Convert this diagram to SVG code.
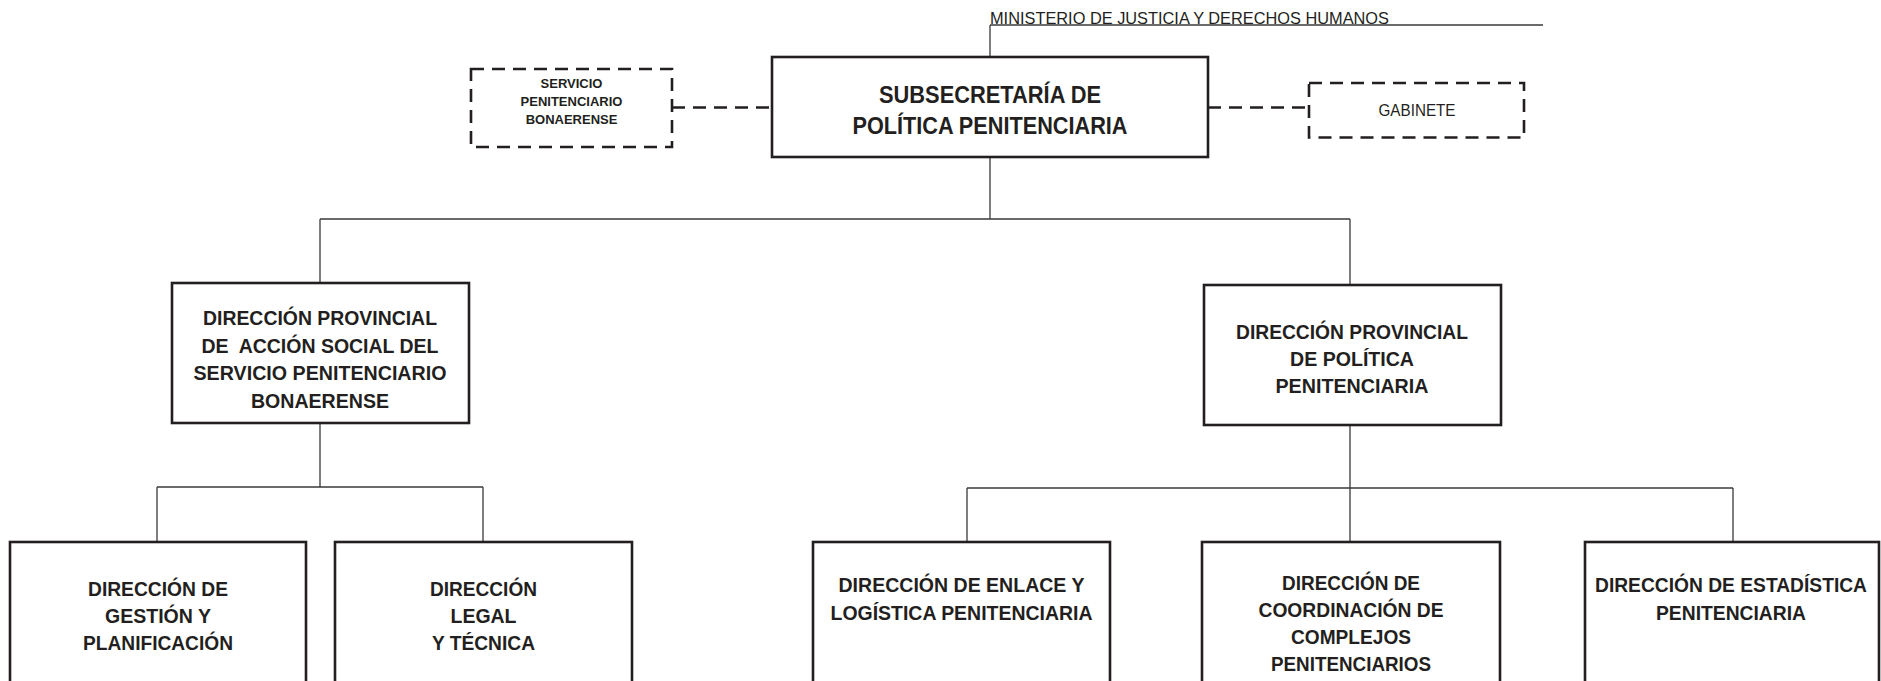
<svg xmlns="http://www.w3.org/2000/svg" width="1881" height="681" viewBox="0 0 1881 681">
<style>
.bg{fill:#ffffff}
.box{fill:#ffffff;stroke:#231f20;stroke-width:2.6}
.dbox{fill:#ffffff;stroke:#231f20;stroke-width:2.6;stroke-dasharray:13 8}
.ln{fill:none;stroke:#3a3a3a;stroke-width:1.3}
.dl{fill:none;stroke:#231f20;stroke-width:2.6;stroke-dasharray:13 8}
text{font-family:"Liberation Sans",Arial,sans-serif;fill:#231f20;text-anchor:middle;white-space:pre}
.b{font-weight:bold}
.t23{font-size:23px}
.t21{font-size:21px}
.t20{font-size:20px}
.t13{font-size:13px}
</style>
<rect class="bg" x="0" y="0" width="1881" height="681"/>
<g id="connectors">
  <path class="ln" d="M990,25 H1543 M990,25 V57"/>
  <path class="ln" d="M990,157 V219 M320,219 H1350 M320,219 V283 M1350,219 V285"/>
  <path class="ln" d="M320,423 V487 M157,487 H483 M157,487 V542 M483,487 V542"/>
  <path class="ln" d="M1350,425 V488 M967,488 H1733 M967,488 V542 M1350,488 V542 M1733,488 V542"/>
  <path class="dl" d="M672,107.5 H772"/>
  <path class="dl" d="M1208,107.5 H1309"/>
</g>
<g id="ministerio">
  <text x="990" y="24" style="text-anchor:start;font-size:17px" textLength="399" lengthAdjust="spacingAndGlyphs">MINISTERIO DE JUSTICIA Y DERECHOS HUMANOS</text>
</g>
<g id="subsecretaria">
  <rect class="box" x="772" y="57" width="436" height="100"/>
  <text class="b t23" x="990" y="103" textLength="222" lengthAdjust="spacingAndGlyphs">SUBSECRETARÍA DE</text>
  <text class="b t23" x="990" y="134" textLength="275" lengthAdjust="spacingAndGlyphs">POLÍTICA PENITENCIARIA</text>
</g>
<g id="servicio">
  <rect class="dbox" x="471" y="69" width="201" height="78"/>
  <text class="b t13" x="571.5" y="88">SERVICIO</text>
  <text class="b t13" x="571.5" y="106">PENITENCIARIO</text>
  <text class="b t13" x="571.5" y="124">BONAERENSE</text>
</g>
<g id="gabinete">
  <rect class="dbox" x="1309" y="83" width="215" height="54.5"/>
  <text x="1417" y="116" style="font-size:16px" textLength="77" lengthAdjust="spacingAndGlyphs">GABINETE</text>
</g>
<g id="dp-accion-social">
  <rect class="box" x="172" y="283" width="297" height="140"/>
  <text class="b t21" x="320" y="325" textLength="234" lengthAdjust="spacingAndGlyphs">DIRECCIÓN PROVINCIAL</text>
  <text class="b t21" x="320" y="352.5" textLength="237" lengthAdjust="spacingAndGlyphs">DE  ACCIÓN SOCIAL DEL</text>
  <text class="b t21" x="320" y="380" textLength="253" lengthAdjust="spacingAndGlyphs">SERVICIO PENITENCIARIO</text>
  <text class="b t21" x="320" y="407.5" textLength="138" lengthAdjust="spacingAndGlyphs">BONAERENSE</text>
</g>
<g id="dp-politica">
  <rect class="box" x="1204" y="285" width="297" height="140"/>
  <text class="b t21" x="1352" y="339" textLength="232" lengthAdjust="spacingAndGlyphs">DIRECCIÓN PROVINCIAL</text>
  <text class="b t21" x="1352" y="366" textLength="124" lengthAdjust="spacingAndGlyphs">DE POLÍTICA</text>
  <text class="b t21" x="1352" y="393" textLength="153" lengthAdjust="spacingAndGlyphs">PENITENCIARIA</text>
</g>
<g id="d-gestion">
  <rect class="box" x="10" y="542" width="296" height="160"/>
  <text class="b t21" x="158" y="596" textLength="140" lengthAdjust="spacingAndGlyphs">DIRECCIÓN DE</text>
  <text class="b t21" x="158" y="623" textLength="106" lengthAdjust="spacingAndGlyphs">GESTIÓN Y</text>
  <text class="b t21" x="158" y="650" textLength="150" lengthAdjust="spacingAndGlyphs">PLANIFICACIÓN</text>
</g>
<g id="d-legal">
  <rect class="box" x="335" y="542" width="297" height="160"/>
  <text class="b t21" x="483.5" y="596" textLength="107" lengthAdjust="spacingAndGlyphs">DIRECCIÓN</text>
  <text class="b t21" x="483.5" y="623" textLength="66" lengthAdjust="spacingAndGlyphs">LEGAL</text>
  <text class="b t21" x="483.5" y="650" textLength="103" lengthAdjust="spacingAndGlyphs">Y TÉCNICA</text>
</g>
<g id="d-enlace">
  <rect class="box" x="813" y="542" width="297" height="160"/>
  <text class="b t21" x="961.5" y="592" textLength="246" lengthAdjust="spacingAndGlyphs">DIRECCIÓN DE ENLACE Y</text>
  <text class="b t21" x="961.5" y="620" textLength="262" lengthAdjust="spacingAndGlyphs">LOGÍSTICA PENITENCIARIA</text>
</g>
<g id="d-coordinacion">
  <rect class="box" x="1202" y="542" width="298" height="160"/>
  <text class="b t21" x="1351" y="590" textLength="138" lengthAdjust="spacingAndGlyphs">DIRECCIÓN DE</text>
  <text class="b t21" x="1351" y="617" textLength="185" lengthAdjust="spacingAndGlyphs">COORDINACIÓN DE</text>
  <text class="b t21" x="1351" y="644" textLength="120" lengthAdjust="spacingAndGlyphs">COMPLEJOS</text>
  <text class="b t20" x="1351" y="671" textLength="160" lengthAdjust="spacingAndGlyphs">PENITENCIARIOS</text>
</g>
<g id="d-estadistica">
  <rect class="box" x="1585" y="542" width="294" height="160"/>
  <text class="b t21" x="1731" y="592" textLength="272" lengthAdjust="spacingAndGlyphs">DIRECCIÓN DE ESTADÍSTICA</text>
  <text class="b t21" x="1731" y="620" textLength="150" lengthAdjust="spacingAndGlyphs">PENITENCIARIA</text>
</g>
</svg>
